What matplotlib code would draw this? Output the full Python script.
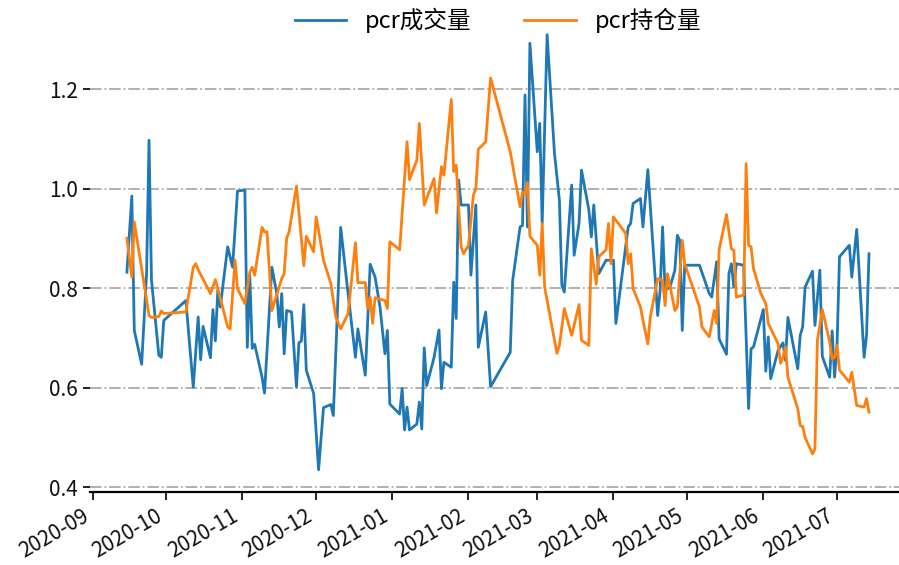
import matplotlib
matplotlib.use("Agg")
import matplotlib.pyplot as plt
import matplotlib.dates as mdates
import pandas as pd

plt.rcParams['font.family'] = ['Noto Sans CJK SC', 'DejaVu Sans']
plt.rcParams['axes.unicode_minus'] = False

series_names = ['pcr成交量', 'pcr持仓量']

vol_dates = [
    '2020-09-15', '2020-09-17', '2020-09-18', '2020-09-21', '2020-09-23', '2020-09-24', '2020-09-25',
    '2020-09-28', '2020-09-29', '2020-09-30', '2020-10-09', '2020-10-12', '2020-10-14', '2020-10-15',
    '2020-10-16', '2020-10-19', '2020-10-20', '2020-10-21', '2020-10-22', '2020-10-23', '2020-10-26',
    '2020-10-28', '2020-10-30', '2020-11-02', '2020-11-03', '2020-11-04', '2020-11-05', '2020-11-06',
    '2020-11-09', '2020-11-10', '2020-11-13', '2020-11-15', '2020-11-16', '2020-11-17', '2020-11-18',
    '2020-11-19', '2020-11-21', '2020-11-23', '2020-11-24', '2020-11-25', '2020-11-26', '2020-11-27',
    '2020-11-30', '2020-12-02', '2020-12-04', '2020-12-07', '2020-12-08', '2020-12-11', '2020-12-14',
    '2020-12-17', '2020-12-18', '2020-12-21', '2020-12-23', '2020-12-25', '2020-12-27', '2020-12-29',
    '2020-12-30', '2020-12-31', '2021-01-04', '2021-01-05', '2021-01-06', '2021-01-07', '2021-01-08',
    '2021-01-11', '2021-01-12', '2021-01-13', '2021-01-14', '2021-01-15', '2021-01-18', '2021-01-20',
    '2021-01-21', '2021-01-22', '2021-01-25', '2021-01-26', '2021-01-27', '2021-01-28', '2021-01-29',
    '2021-02-01', '2021-02-02', '2021-02-04', '2021-02-05', '2021-02-08', '2021-02-10', '2021-02-18',
    '2021-02-19', '2021-02-22', '2021-02-23', '2021-02-24', '2021-02-25', '2021-02-26', '2021-03-01',
    '2021-03-02', '2021-03-03', '2021-03-05', '2021-03-08', '2021-03-10', '2021-03-11', '2021-03-12',
    '2021-03-15', '2021-03-16', '2021-03-18', '2021-03-19', '2021-03-22', '2021-03-23', '2021-03-24',
    '2021-03-26', '2021-03-29', '2021-04-01', '2021-04-02', '2021-04-07', '2021-04-08', '2021-04-09',
    '2021-04-12', '2021-04-13', '2021-04-15', '2021-04-19', '2021-04-20', '2021-04-21', '2021-04-22',
    '2021-04-24', '2021-04-26', '2021-04-27', '2021-04-28', '2021-04-29', '2021-04-30', '2021-05-06',
    '2021-05-10', '2021-05-11', '2021-05-13', '2021-05-14', '2021-05-17', '2021-05-18', '2021-05-19',
    '2021-05-20', '2021-05-21', '2021-05-24', '2021-05-26', '2021-05-27', '2021-05-28', '2021-06-01',
    '2021-06-02', '2021-06-03', '2021-06-04', '2021-06-07', '2021-06-09', '2021-06-10', '2021-06-11',
    '2021-06-15', '2021-06-16', '2021-06-17', '2021-06-18', '2021-06-21', '2021-06-22', '2021-06-24',
    '2021-06-25', '2021-06-28', '2021-06-29', '2021-06-30', '2021-07-01', '2021-07-02', '2021-07-06',
    '2021-07-07', '2021-07-09', '2021-07-12', '2021-07-13', '2021-07-14',
]
vol_values = [
    0.832, 0.985, 0.715, 0.647, 0.829, 1.097, 0.816,
    0.665, 0.661, 0.735, 0.775, 0.601, 0.742, 0.656,
    0.723, 0.660, 0.757, 0.694, 0.796, 0.762, 0.883,
    0.842, 0.995, 0.997, 0.681, 0.826, 0.679, 0.687,
    0.621, 0.589, 0.842, 0.789, 0.722, 0.789, 0.668,
    0.755, 0.752, 0.601, 0.690, 0.694, 0.767, 0.635,
    0.588, 0.435, 0.560, 0.566, 0.544, 0.922, 0.789,
    0.661, 0.718, 0.625, 0.848, 0.822, 0.762, 0.668,
    0.715, 0.567, 0.547, 0.598, 0.515, 0.561, 0.515,
    0.527, 0.571, 0.517, 0.680, 0.604, 0.661, 0.716,
    0.598, 0.651, 0.641, 0.812, 0.739, 1.017, 0.967,
    0.967, 0.826, 0.967, 0.681, 0.752, 0.602, 0.671,
    0.816, 0.923, 0.926, 1.188, 0.923, 1.292, 1.074,
    1.131, 0.930, 1.309, 1.071, 0.977, 0.806, 0.792,
    1.007, 0.866, 0.930, 1.037, 0.957, 0.903, 0.967,
    0.829, 0.856, 0.856, 0.729, 0.923, 0.930, 0.970,
    0.980, 0.923, 1.038, 0.745, 0.796, 0.923, 0.796,
    0.802, 0.836, 0.906, 0.896, 0.715, 0.846, 0.846,
    0.789, 0.782, 0.853, 0.698, 0.667, 0.829, 0.849,
    0.802, 0.849, 0.846, 0.558, 0.678, 0.682, 0.757,
    0.633, 0.702, 0.618, 0.675, 0.690, 0.655, 0.741,
    0.638, 0.705, 0.722, 0.802, 0.834, 0.725, 0.836,
    0.663, 0.621, 0.714, 0.621, 0.688, 0.863, 0.886,
    0.822, 0.918, 0.661, 0.705, 0.869,
]

oi_dates = [
    '2020-09-15', '2020-09-17', '2020-09-18', '2020-09-24', '2020-09-25', '2020-09-28', '2020-09-29',
    '2020-09-30', '2020-10-09', '2020-10-12', '2020-10-13', '2020-10-14', '2020-10-19', '2020-10-21',
    '2020-10-22', '2020-10-26', '2020-10-27', '2020-10-29', '2020-10-30', '2020-11-02', '2020-11-04',
    '2020-11-05', '2020-11-06', '2020-11-09', '2020-11-10', '2020-11-11', '2020-11-13', '2020-11-17',
    '2020-11-18', '2020-11-19', '2020-11-20', '2020-11-23', '2020-11-26', '2020-11-27', '2020-11-30',
    '2020-12-01', '2020-12-02', '2020-12-04', '2020-12-07', '2020-12-09', '2020-12-11', '2020-12-14',
    '2020-12-17', '2020-12-18', '2020-12-21', '2020-12-22', '2020-12-23', '2020-12-24', '2020-12-25',
    '2020-12-29', '2020-12-30', '2020-12-31', '2021-01-04', '2021-01-07', '2021-01-08', '2021-01-11',
    '2021-01-12', '2021-01-14', '2021-01-18', '2021-01-19', '2021-01-21', '2021-01-22', '2021-01-25',
    '2021-01-26', '2021-01-27', '2021-01-29', '2021-01-30', '2021-02-01', '2021-02-03', '2021-02-04',
    '2021-02-05', '2021-02-08', '2021-02-10', '2021-02-18', '2021-02-22', '2021-02-23', '2021-02-24',
    '2021-02-25', '2021-02-26', '2021-03-01', '2021-03-02', '2021-03-03', '2021-03-04', '2021-03-09',
    '2021-03-10', '2021-03-12', '2021-03-15', '2021-03-18', '2021-03-19', '2021-03-22', '2021-03-23',
    '2021-03-25', '2021-03-26', '2021-03-29', '2021-03-30', '2021-03-31', '2021-04-01', '2021-04-06',
    '2021-04-07', '2021-04-08', '2021-04-09', '2021-04-12', '2021-04-13', '2021-04-15', '2021-04-16',
    '2021-04-19', '2021-04-21', '2021-04-22', '2021-04-23', '2021-04-26', '2021-04-27', '2021-04-29',
    '2021-04-30', '2021-05-06', '2021-05-07', '2021-05-10', '2021-05-12', '2021-05-13', '2021-05-14',
    '2021-05-17', '2021-05-19', '2021-05-20', '2021-05-21', '2021-05-24', '2021-05-25', '2021-05-26',
    '2021-05-27', '2021-05-28', '2021-05-31', '2021-06-02', '2021-06-03', '2021-06-07', '2021-06-08',
    '2021-06-09', '2021-06-10', '2021-06-11', '2021-06-15', '2021-06-16', '2021-06-17', '2021-06-18',
    '2021-06-21', '2021-06-22', '2021-06-23', '2021-06-25', '2021-06-28', '2021-06-29', '2021-06-30',
    '2021-07-01', '2021-07-02', '2021-07-06', '2021-07-07', '2021-07-09', '2021-07-12', '2021-07-13',
    '2021-07-14',
]
oi_values = [
    0.900, 0.822, 0.933, 0.745, 0.741, 0.743, 0.754,
    0.749, 0.752, 0.842, 0.849, 0.837, 0.789, 0.817,
    0.799, 0.722, 0.718, 0.856, 0.799, 0.769, 0.832,
    0.842, 0.826, 0.922, 0.913, 0.913, 0.755, 0.819,
    0.829, 0.900, 0.913, 1.005, 0.845, 0.904, 0.873,
    0.943, 0.916, 0.856, 0.809, 0.742, 0.718, 0.749,
    0.891, 0.811, 0.811, 0.759, 0.782, 0.729, 0.781,
    0.775, 0.759, 0.893, 0.877, 1.094, 1.018, 1.057,
    1.131, 0.967, 1.020, 0.951, 1.044, 1.027, 1.179,
    1.034, 1.047, 0.883, 0.869, 0.886, 0.987, 1.000,
    1.079, 1.094, 1.222, 1.074, 0.963, 0.993, 0.990,
    1.012, 0.904, 0.886, 0.826, 0.930, 0.802, 0.669,
    0.685, 0.759, 0.705, 0.767, 0.695, 0.685, 0.879,
    0.808, 0.863, 0.877, 0.930, 0.849, 0.943, 0.910,
    0.849, 0.869, 0.799, 0.762, 0.735, 0.688, 0.742,
    0.819, 0.816, 0.765, 0.829, 0.755, 0.762, 0.896,
    0.849, 0.762, 0.722, 0.702, 0.755, 0.729, 0.877,
    0.948, 0.879, 0.876, 0.782, 0.786, 1.050, 0.886,
    0.883, 0.839, 0.789, 0.769, 0.729, 0.688, 0.649,
    0.661, 0.682, 0.621, 0.558, 0.524, 0.522, 0.500,
    0.467, 0.477, 0.695, 0.757, 0.692, 0.658, 0.661,
    0.685, 0.635, 0.611, 0.631, 0.564, 0.561, 0.578,
    0.551,
]

y_ticks = [0.4, 0.6, 0.8, 1.0, 1.2]

fig = plt.figure(figsize=(8.99, 5.65), dpi=100)
ax = fig.add_axes([0.0999, 0.130, 0.908, 0.847])

ax.plot(pd.to_datetime(vol_dates), vol_values, color='#1f77b4', lw=2.0, label=series_names[0])
ax.plot(pd.to_datetime(oi_dates), oi_values, color='#ff7f0e', lw=2.0, label=series_names[1])

ax.set_yticks(y_ticks)
ax.set_yticklabels([f'{v:.1f}' for v in y_ticks])
ax.yaxis.grid(True, linestyle='-.', color='#aaaaaa', linewidth=1.3)
ax.set_axisbelow(True)

ax.xaxis.set_major_locator(mdates.MonthLocator())
ax.xaxis.set_major_formatter(mdates.DateFormatter('%Y-%m'))
for lab in ax.get_xticklabels():
    lab.set_rotation(30)
    lab.set_ha('right')

for s in ['top', 'right', 'left']:
    ax.spines[s].set_visible(False)
ax.spines['bottom'].set_linewidth(1.6)

ax.tick_params(axis='both', labelsize=15, width=1.3, colors='#111111')
ax.tick_params(axis='x', length=6)
ax.tick_params(axis='y', length=5)

ax.legend(loc='upper center', bbox_to_anchor=(0.5, 1.03), ncol=2, frameon=False, fontsize=17,
          handlelength=2.2, columnspacing=2.2, borderaxespad=0.0)

fig.savefig('out.png', dpi=100)
